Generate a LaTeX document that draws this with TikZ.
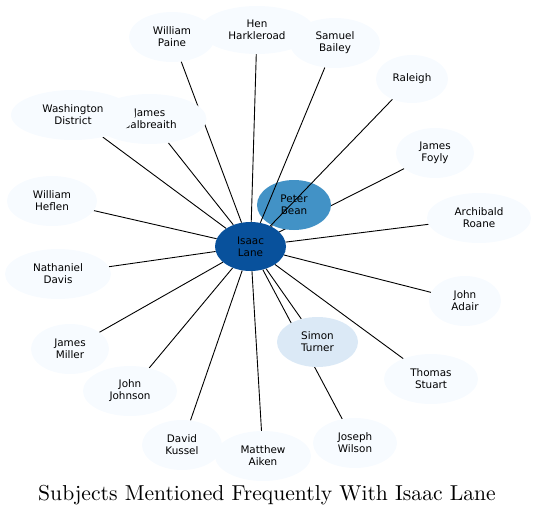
\documentclass[tikz,border=0pt]{standalone}
\usepackage{fontspec}
\newfontfamily\nodefont{DejaVu Sans}
\usetikzlibrary{shapes.geometric,backgrounds}
\definecolor{palefill}{HTML}{F7FBFF}
\definecolor{lightfill}{HTML}{DBE9F6}
\definecolor{midfill}{HTML}{4292C6}
\definecolor{darkfill}{HTML}{08519C}
\tikzset{
  subj/.style={ellipse, fill=palefill, inner sep=0pt, align=center,
    font=\nodefont\fontsize{10.4}{12}\selectfont, text=black},
  link/.style={draw=black, line width=0.9pt},
}
\begin{document}
\begin{tikzpicture}[x=1pt,y=-1pt]
\useasboundingbox (0,0) rectangle (536,517);
% nodes
\node[subj, minimum width=86pt, minimum height=50pt] (paine) at (172,37) {William\\Paine};
\node[subj, minimum width=114pt, minimum height=48pt] (hen) at (257,30) {Hen\\Harkleroad};
\node[subj, minimum width=90pt, minimum height=50pt] (bailey) at (335,43) {Samuel\\Bailey};
\node[subj, minimum width=72pt, minimum height=48pt] (raleigh) at (412,79) {Raleigh};
\node[subj, minimum width=78pt, minimum height=50pt] (foyly) at (435,153) {James\\Foyly};
\node[subj, minimum width=104pt, minimum height=50pt] (roane) at (479,218) {Archibald\\Roane};
\node[subj, minimum width=72pt, minimum height=50pt] (adair) at (465,301) {John\\Adair};
\node[subj, minimum width=94pt, minimum height=50pt] (stuart) at (431,379) {Thomas\\Stuart};
\node[subj, minimum width=84pt, minimum height=50pt] (wilson) at (355,443) {Joseph\\Wilson};
\node[subj, minimum width=80pt, minimum height=50pt] (kussel) at (182,445) {David\\Kussel};
\node[subj, minimum width=96pt, minimum height=50pt] (aiken) at (263,456) {Matthew\\Aiken};
\node[subj, minimum width=94pt, minimum height=50pt] (johnson) at (130,391) {John\\Johnson};
\node[subj, minimum width=78pt, minimum height=50pt] (miller) at (70,349) {James\\Miller};
\node[subj, minimum width=106pt, minimum height=50pt] (davis) at (58,274) {Nathaniel\\Davis};
\node[subj, minimum width=90pt, minimum height=50pt] (heflen) at (52,201) {William\\Heflen};
\node[subj, minimum width=114pt, minimum height=50pt] (galb) at (149.5,119) {James\\Galbreaith};
\node[subj, minimum width=124pt, minimum height=50pt] (washington) at (73,115) {Washington\\District};
\node[subj, fill=lightfill, minimum width=81pt, minimum height=50pt] (turner) at (317.5,342) {Simon\\Turner};
\node[subj, fill=midfill, minimum width=74pt, minimum height=50pt] (bean) at (294,205) {Peter\\Bean};
\node[subj, fill=darkfill, minimum width=71pt, minimum height=49pt] (isaac) at (250.5,246.5) {Isaac\\Lane};
% connectors under the nodes
\begin{scope}[on background layer]
\foreach \t in {paine,hen,foyly,roane,adair,stuart,wilson,turner,aiken,kussel,johnson,miller,davis,heflen,washington,galb,bean}
  \draw[link] (isaac) -- (\t);
\end{scope}
% connectors drawn over Peter Bean
\draw[link] (isaac) -- (bailey);
\draw[link] (isaac) -- (raleigh);
% title
\node[inner sep=0pt, font=\fontsize{10}{12}\selectfont] (title) at (267,495) {\scalebox{2.16}{Subjects Mentioned Frequently With Isaac Lane}};
\end{tikzpicture}
\end{document}
